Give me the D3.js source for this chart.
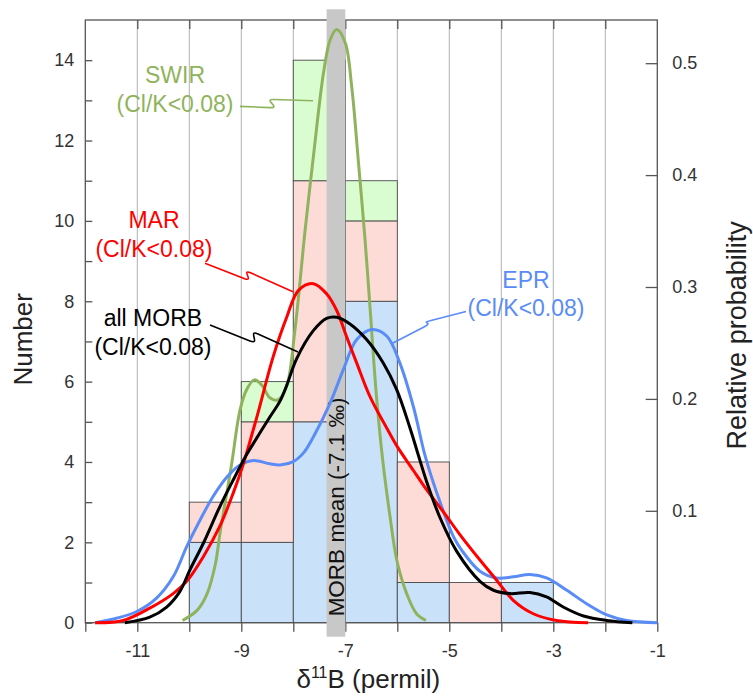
<!DOCTYPE html>
<html><head><meta charset="utf-8">
<script src="https://cdn.jsdelivr.net/npm/d3@7"></script>
<style>
body{margin:0;background:#fff}
svg{display:block;font-family:"Liberation Sans",Arial,Helvetica,sans-serif}
</style>
</head><body>
<svg id="c" width="753" height="698"></svg>
<script>
// ---------------- DATA ----------------
const binStarts = [-10, -9, -8, -7, -6, -5, -4];
const binWidth = 1;
const eprCounts  = [2, 2, 5, 8, 1, 0, 1];
const marCounts  = [1, 3, 6, 2, 3, 1, 0];
const swirCounts = [0, 1, 3, 1, 0, 0, 0];

const xTickValues = [-12, -11, -10, -9, -8, -7, -6, -5, -4, -3, -2, -1];
const xTickLabels = ["", "-11", "", "-9", "", "-7", "", "-5", "", "-3", "", "-1"];
const gridValues = [-11, -10, -9, -8, -7, -6, -5, -4, -3, -2];
const leftTickValues = [0, 2, 4, 6, 8, 10, 12, 14];
const leftMinorTicks = [1, 3, 5, 7, 9, 11, 13];
const rightTickValues = [0.1, 0.2, 0.3, 0.4, 0.5];

const morbMean = -7.1;
const meanBand = [-7.36, -7.0];

// relative-probability curves [δ11B, probability]
const swirCurve = [[-10.13,0.002],[-9.85,0.011],[-9.665,0.025],[-9.5,0.052],[-9.41,0.080],[-9.3,0.110],[-9.185,0.142],[-9.025,0.190],[-8.9,0.208],[-8.75,0.217],[-8.6,0.212],[-8.45,0.201],[-8.3,0.199],[-8.13,0.211],[-7.97,0.261],[-7.775,0.350],[-7.615,0.416],[-7.42,0.491],[-7.29,0.521],[-7.165,0.530],[-7.0,0.518],[-6.877,0.479],[-6.75,0.413],[-6.62,0.342],[-6.525,0.282],[-6.4,0.202],[-6.28,0.145],[-6.14,0.095],[-6.01,0.056],[-5.82,0.026],[-5.63,0.008],[-5.45,0.002]];
const marCurve = [[-11.81,0.0],[-11.27,0.002],[-10.76,0.013],[-10.31,0.026],[-10.05,0.037],[-9.73,0.059],[-9.415,0.086],[-9.154,0.116],[-8.96,0.142],[-8.7,0.184],[-8.385,0.238],[-8.127,0.273],[-7.9,0.297],[-7.615,0.303],[-7.36,0.294],[-7.165,0.279],[-6.97,0.255],[-6.78,0.232],[-6.525,0.202],[-6.204,0.174],[-6.01,0.158],[-5.69,0.136],[-5.5,0.123],[-5.05,0.095],[-4.8,0.079],[-4.41,0.056],[-4.09,0.038],[-3.77,0.020],[-3.385,0.008],[-2.935,0.002],[-2.33,0.0]];
const eprCurve = [[-11.81,0.0],[-11.4,0.004],[-11.01,0.010],[-10.63,0.022],[-10.31,0.041],[-10.05,0.068],[-9.79,0.092],[-9.54,0.113],[-9.28,0.130],[-9.025,0.141],[-8.77,0.145],[-8.45,0.142],[-8.256,0.141],[-8.0,0.144],[-7.8,0.152],[-7.615,0.166],[-7.294,0.196],[-7.04,0.226],[-6.78,0.253],[-6.49,0.262],[-6.2,0.256],[-5.95,0.232],[-5.69,0.193],[-5.47,0.150],[-5.24,0.116],[-4.92,0.077],[-4.75,0.064],[-4.41,0.046],[-4.09,0.040],[-3.77,0.041],[-3.45,0.043],[-3.13,0.040],[-2.74,0.029],[-2.36,0.017],[-1.97,0.007],[-1.59,0.002],[-1.0,0.0]];
const allCurve = [[-11.24,0.0],[-10.76,0.005],[-10.435,0.014],[-10.18,0.028],[-9.99,0.047],[-9.73,0.071],[-9.41,0.104],[-9.15,0.128],[-8.9,0.150],[-8.77,0.160],[-8.448,0.184],[-8.256,0.198],[-8.127,0.212],[-7.935,0.236],[-7.615,0.261],[-7.36,0.272],[-7.165,0.273],[-6.91,0.267],[-6.59,0.253],[-6.27,0.232],[-6.01,0.208],[-5.756,0.174],[-5.564,0.145],[-5.435,0.126],[-5.18,0.094],[-4.86,0.064],[-4.41,0.037],[-4.15,0.029],[-3.83,0.026],[-3.45,0.027],[-3.13,0.023],[-2.81,0.014],[-2.42,0.006],[-1.97,0.002],[-1.48,0.0]];

// annotation labels: [x, y(Number units)] of line baselines, leader [start, bend1, bend2, end]
const labelNames = ["SWIR", "MAR", "all MORB", "EPR"];
const labelSub = "(Cl/K<0.08)";
const labelPos = [[-10.275, 13.43], [-10.68, 9.82], [-10.70, 7.38], [-3.525, 8.33]];
const labelPos2 = [[-10.275, 12.71], [-10.68, 9.11], [-10.70, 6.66], [-3.525, 7.63]];
const leaders = [
  [[-9.025,12.85],[-8.448,12.82],[-8.371,13.02],[-7.621,12.99]],
  [[-9.698,8.945],[-8.948,8.567],[-8.813,8.703],[-8.006,8.238]],
  [[-9.602,7.409],[-8.833,7.011],[-8.679,7.185],[-7.910,6.737]],
  [[-4.679,7.745],[-5.352,7.521],[-5.487,7.359],[-6.083,6.961]]
];

// ---------------- STYLE ----------------
const M = {left: 85.3, right: 657.3, top: 20, bottom: 622.7};
const colors = {epr: "#5a8cf7", mar: "#ff0000", swir: "#8fb35c", all: "#000000"};
const fills = {epr: "#c9e2fa", mar: "#fddcd8", swir: "#d9fdd0"};
const labelColors = [colors.swir, colors.mar, colors.all, colors.epr];
const yLeftMax = 15, yRightMax = 0.5386;

const svg = d3.select("#c");
const x = d3.scaleLinear().domain([-12, -1]).range([M.left, M.right]);
const yL = d3.scaleLinear().domain([0, yLeftMax]).range([M.bottom, M.top]);
const yR = d3.scaleLinear().domain([0, yRightMax]).range([M.bottom, M.top]);

// grid
svg.append("g").selectAll("line").data(gridValues).join("line")
  .attr("x1", d => x(d)).attr("x2", d => x(d))
  .attr("y1", M.top).attr("y2", M.bottom)
  .attr("stroke", "#b0b0b0").attr("stroke-width", 1);

// stacked bars
const rows = binStarts.map((b, i) => ({x0: b, epr: eprCounts[i], mar: marCounts[i], swir: swirCounts[i]}));
const stack = d3.stack().keys(["epr", "mar", "swir"])(rows);
const barG = svg.append("g");
stack.forEach(layer => {
  barG.append("g").selectAll("rect").data(layer.filter(d => d[1] > d[0])).join("rect")
    .attr("x", d => x(d.data.x0)).attr("width", d => x(d.data.x0 + binWidth) - x(d.data.x0))
    .attr("y", d => yL(d[1])).attr("height", d => yL(d[0]) - yL(d[1]))
    .attr("fill", fills[layer.key]).attr("stroke", "#4a4a4a").attr("stroke-width", 0.9);
});

// frame
svg.append("rect").attr("x", M.left).attr("y", M.top)
  .attr("width", M.right - M.left).attr("height", M.bottom - M.top)
  .attr("fill", "none").attr("stroke", "#555").attr("stroke-width", 1.3);

// axes
const tickFont = 18;
const axB = svg.append("g").attr("transform", `translate(0,${M.bottom})`)
  .call(d3.axisBottom(x).tickValues(xTickValues).tickSize(9).tickPadding(13)
    .tickFormat((d, i) => xTickLabels[i]));
const axT = svg.append("g").attr("transform", `translate(0,${M.top})`)
  .call(d3.axisTop(x).tickValues(gridValues).tickSize(-9).tickFormat(""));
const axL = svg.append("g").attr("transform", `translate(${M.left},0)`)
  .call(d3.axisLeft(yL).tickValues(leftTickValues).tickSize(-7).tickPadding(11).tickFormat(d => String(d)));
const axLm = svg.append("g").attr("transform", `translate(${M.left},0)`)
  .call(d3.axisLeft(yL).tickValues(leftMinorTicks).tickSize(-7).tickFormat(""));
const axR = svg.append("g").attr("transform", `translate(${M.right},0)`)
  .call(d3.axisRight(yR).tickValues(rightTickValues).tickSize(-11.6).tickPadding(15).tickFormat(d => String(d)));
[axB, axT, axL, axLm, axR].forEach(g => {
  g.select(".domain").remove();
  g.selectAll(".tick line").attr("stroke", "#555").attr("stroke-width", 1.3);
  g.selectAll(".tick text").attr("fill", "#333").attr("font-size", tickFont)
    .attr("font-family", '"Liberation Sans",Arial,sans-serif');
});

// mean band
svg.append("rect").attr("x", x(meanBand[0])).attr("width", x(meanBand[1]) - x(meanBand[0]))
  .attr("y", M.top - 10.7).attr("height", (M.bottom + 14) - (M.top - 10.7))
  .attr("fill", "#c8c8c8");
svg.append("text")
  .attr("transform", `translate(${x((meanBand[0] + meanBand[1]) / 2) + 8},${yL(2.88)}) rotate(-90)`)
  .attr("text-anchor", "middle").attr("font-size", 22.5).attr("fill", "#111")
  .text(`MORB mean (${morbMean} ‰)`);

// curves
const line = d3.line().x(d => x(d[0])).y(d => yR(d[1])).curve(d3.curveCatmullRom.alpha(0.5));
[[swirCurve, colors.swir], [eprCurve, colors.epr], [marCurve, colors.mar], [allCurve, colors.all]]
  .forEach(([data, col]) => {
    svg.append("path").datum(data).attr("d", line).attr("fill", "none")
      .attr("stroke", col).attr("stroke-width", 3).attr("stroke-linecap", "butt");
  });

// annotation labels + leaders
const k = 12;
leaders.forEach((pts, i) => {
  const p = pts.map(d => [x(d[0]), yL(d[1])]);
  const u = (a, b) => { const dx = b[0] - a[0], dy = b[1] - a[1], L = Math.hypot(dx, dy); return [dx / L, dy / L]; };
  const d1 = u(p[0], p[1]), d2 = u(p[2], p[3]);
  const c1 = [p[1][0] + d1[0] * k, p[1][1] + d1[1] * k];
  const c2 = [p[2][0] - d2[0] * k, p[2][1] - d2[1] * k];
  svg.append("path")
    .attr("d", `M${p[0]}L${p[1]}C${c1} ${c2} ${p[2]}L${p[3]}`)
    .attr("fill", "none").attr("stroke", labelColors[i]).attr("stroke-width", 1.6);
  svg.append("text").attr("x", x(labelPos[i][0])).attr("y", yL(labelPos[i][1]))
    .attr("text-anchor", "middle").attr("font-size", 23).attr("fill", labelColors[i]).text(labelNames[i]);
  svg.append("text").attr("x", x(labelPos2[i][0])).attr("y", yL(labelPos2[i][1]))
    .attr("text-anchor", "middle").attr("font-size", 23).attr("fill", labelColors[i]).text(labelSub);
});

// axis titles
svg.append("text").attr("transform", `translate(32,${(M.top + M.bottom) / 2 + 18}) rotate(-90)`)
  .attr("text-anchor", "middle").attr("font-size", 26).attr("fill", "#222").text("Number");
svg.append("text").attr("transform", `translate(746,${(M.top + M.bottom) / 2 + 14}) rotate(-90)`)
  .attr("text-anchor", "middle").attr("font-size", 27).attr("fill", "#222").text("Relative probability");
const xl = svg.append("text").attr("x", (x(-7) + x(-6)) / 2 - 3).attr("y", 688)
  .attr("text-anchor", "middle").attr("font-size", 26).attr("fill", "#222");
xl.append("tspan").text("δ");
xl.append("tspan").attr("font-size", 16).attr("dy", -10).text("11");
xl.append("tspan").attr("dy", 10).text("B (permil)");
</script>
</body></html>
